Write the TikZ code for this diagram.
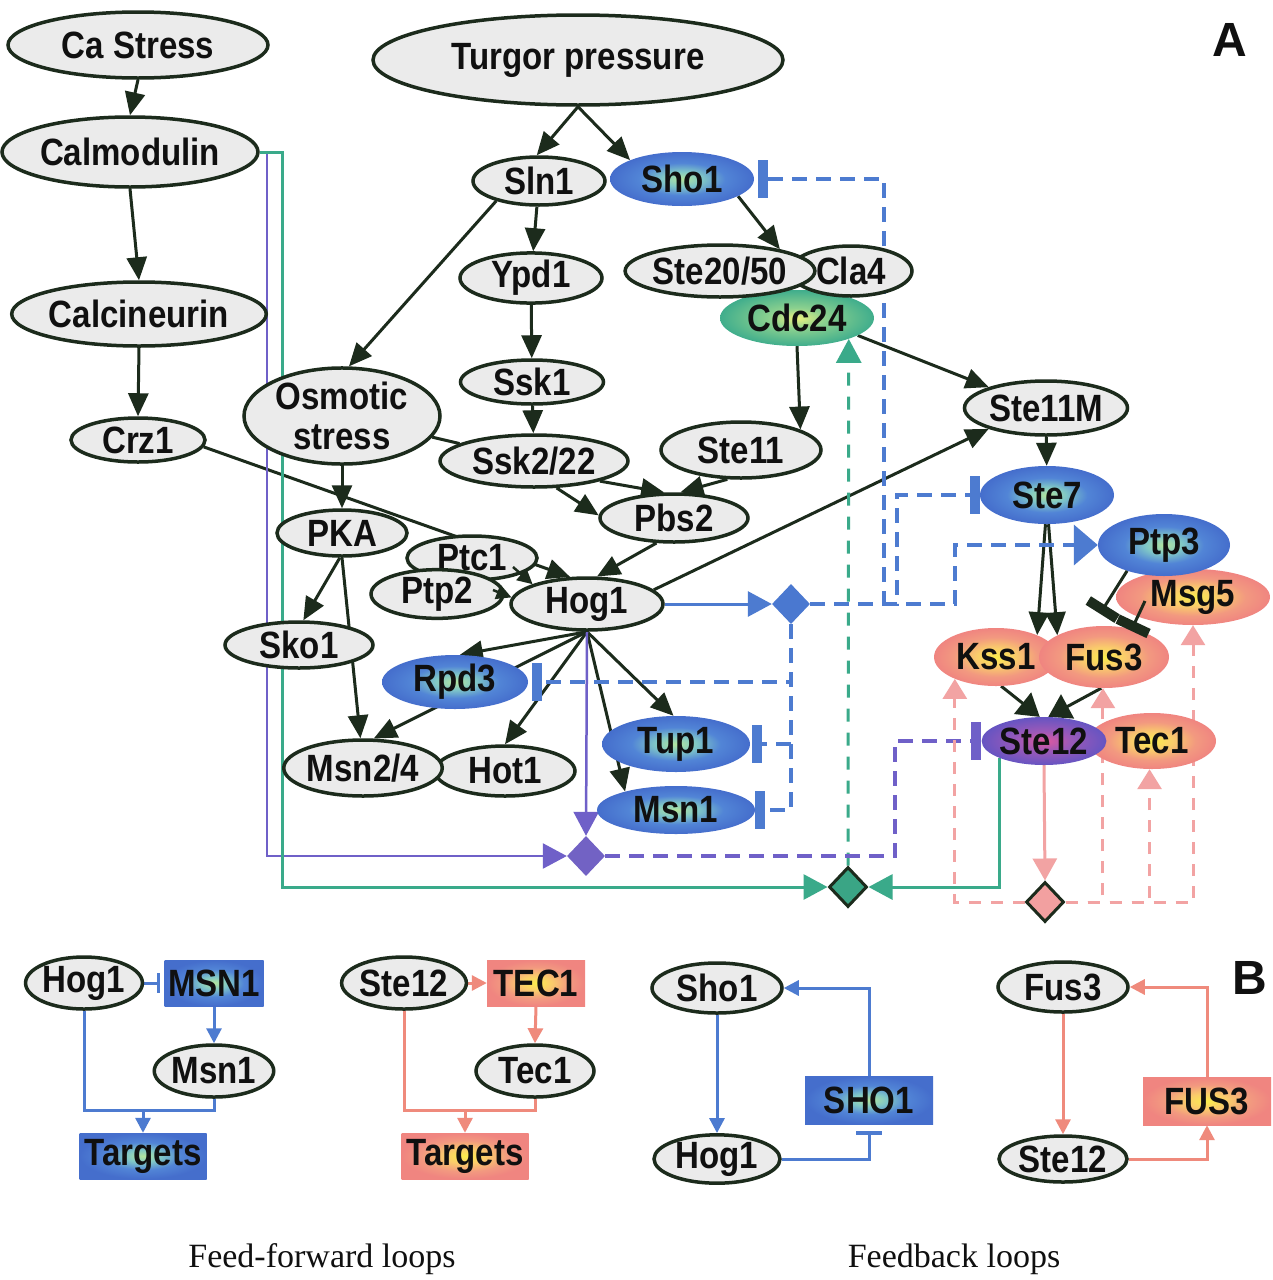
\documentclass[tikz,border=0pt]{standalone}
\usepackage{fontspec}
\setmainfont{Liberation Serif}
\newfontfamily\lbsans{Liberation Sans}[FakeStretch=0.87]
\newfontfamily\lbsansA{Liberation Sans}
\usetikzlibrary{shapes.geometric,arrows.meta,calc}
\definecolor{edgec}{HTML}{1C2B1C}
\definecolor{nodegray}{HTML}{EBEBEB}
\definecolor{txt}{HTML}{101010}
\definecolor{blueL}{HTML}{4D7BD0}
\definecolor{purpL}{HTML}{6F60C8}
\definecolor{tealL}{HTML}{3AAA8A}
\definecolor{pinkL}{HTML}{F2A3A3}
\definecolor{pinkB}{HTML}{EF8A7C}
\definecolor{bdiam}{HTML}{4A78D0}
\definecolor{pdiam}{HTML}{7262C4}
\definecolor{gdiam}{HTML}{3AA585}
\definecolor{pkdiam}{HTML}{F2A0A0}
\pgfdeclareradialshading{shblue}{\pgfpoint{0bp}{0bp}}{rgb(0bp)=(0.70,0.90,0.62); rgb(7bp)=(0.50,0.78,0.78); rgb(15bp)=(0.32,0.52,0.84); rgb(25bp)=(0.27,0.43,0.80); rgb(50bp)=(0.27,0.43,0.80)}
\pgfdeclareradialshading{shpink}{\pgfpoint{0bp}{0bp}}{rgb(0bp)=(0.98,0.93,0.30); rgb(8bp)=(0.98,0.80,0.42); rgb(17bp)=(0.95,0.60,0.50); rgb(25bp)=(0.94,0.52,0.50); rgb(50bp)=(0.94,0.52,0.50)}
\pgfdeclareradialshading{shpurp}{\pgfpoint{0bp}{0bp}}{rgb(0bp)=(0.88,0.35,0.62); rgb(10bp)=(0.62,0.35,0.72); rgb(25bp)=(0.40,0.33,0.76); rgb(50bp)=(0.40,0.33,0.76)}
\pgfdeclareradialshading{shteal}{\pgfpoint{0bp}{0bp}}{rgb(0bp)=(0.93,0.95,0.50); rgb(9bp)=(0.55,0.82,0.56); rgb(25bp)=(0.25,0.68,0.55); rgb(50bp)=(0.25,0.68,0.55)}
\pgfdeclarelayer{bottom}
\pgfdeclarelayer{back}
\pgfsetlayers{bottom,back,main}
\tikzset{
  base/.style={ellipse, inner sep=0pt, text=txt, font=\lbsans\bfseries\fontsize{38}{40}\selectfont, align=center},
  gn/.style={base, draw=edgec, line width=3.5pt, fill=nodegray},
  bn/.style={base, shade, shading=shblue},
  pn/.style={base, shade, shading=shpink},
  un/.style={base, shade, shading=shpurp},
  tn/.style={base, shade, shading=shteal},
  br/.style={rectangle, inner sep=0pt, text=txt, font=\lbsans\bfseries\fontsize{38}{40}\selectfont, shade, shading=shblue},
  pr/.style={rectangle, inner sep=0pt, text=txt, font=\lbsans\bfseries\fontsize{38}{40}\selectfont, shade, shading=shpink},
  sz/.style 2 args={minimum width=#1pt, minimum height=#2pt},
  dia/.style={diamond, inner sep=0pt, minimum width=38pt, minimum height=40pt},
  ar/.style={draw=edgec, line width=3pt, -{Triangle[length=23pt,width=20pt]}},
  arb/.style={draw=edgec, line width=3pt, -{Triangle[length=22pt,width=27pt]}},
  ars/.style={draw=edgec, line width=2.5pt, -{Triangle[length=15pt,width=15pt]}},
  ln/.style={draw=edgec, line width=3pt},
  inh/.style={draw=edgec, line width=3pt, -{Rectangle[length=10pt,width=34pt]}},
  ctip/.style={-{Triangle[length=24pt,width=25pt]}},
  cbar/.style={-{Rectangle[length=10pt,width=38pt]}},
  bsol/.style={draw=blueL, line width=3pt},
  bdash/.style={draw=blueL, line width=4pt, dash pattern=on 15pt off 9pt},
  psol/.style={draw=purpL, line width=2.5pt},
  pdash/.style={draw=purpL, line width=4pt, dash pattern=on 15pt off 9pt},
  tsol/.style={draw=tealL, line width=3pt},
  tdash/.style={draw=tealL, line width=3pt, dash pattern=on 13pt off 11pt},
  ksol/.style={draw=pinkL, line width=3pt},
  kdash/.style={draw=pinkL, line width=3pt, dash pattern=on 12pt off 10pt},
  bB/.style={draw=blueL, line width=3pt},
  pB/.style={draw=pinkB, line width=3pt},
  tipB/.style={-{Triangle[length=15pt,width=15pt]}},
  captext/.style={font=\fontsize{34}{36}\selectfont, text=txt}
}
\begin{document}
\begin{tikzpicture}[x=1pt,y=-1pt]
\useasboundingbox (0,0) rectangle (1272,1280);
\begin{pgfonlayer}{bottom}
\fill[white] (0,0) rectangle (1272,1280);
\end{pgfonlayer}

% ---------- Panel A nodes ----------
\node[gn,sz={260}{66}] (ca) at (138,45) {Ca Stress};
\node[gn,sz={410}{90}] (turgor) at (578,60) {Turgor pressure};
\node[gn,sz={256}{70}] (calm) at (130,152) {Calmodulin};
\node[gn,sz={228}{64}] (calcin) at (139,314) {Calcineurin};
\node[gn,sz={134}{44}] (crz1) at (138,440) {Crz1};
\node[gn,sz={132}{48}] (sln1) at (539,181) {Sln1};
\node[bn,sz={144}{54}] (sho1) at (682,179) {Sho1};
\node[gn,sz={142}{46}] (ypd1) at (531,278) {Ypd1};
\node[tn,sz={154}{56}] (cdc24) at (797,318) {Cdc24};
\node[gn,sz={122}{50}] (cla4) at (851,271) {Cla4};
\node[gn,sz={160}{52}] (ste20) at (720,271) {Ste20/50};
\node[gn,sz={143}{44}] (ssk1) at (532,382) {Ssk1};
\node[gn,sz={196}{88}] (osm) at (342,416) {Osmotic\\stress};
\node[gn,sz={188}{52}] (ssk2) at (534,461) {Ssk2/22};
\node[gn,sz={160}{56}] (ste11) at (741,450) {Ste11};
\node[gn,sz={163}{54}] (ste11m) at (1046,408) {Ste11M};
\node[gn,sz={130}{46}] (pka) at (342,533) {PKA};
\node[gn,sz={148}{48}] (pbs2) at (674,518) {Pbs2};
\node[bn,sz={134}{58}] (ste7) at (1047,495) {Ste7};
\node[pn,sz={154}{56}] (msg5) at (1193,597) {Msg5};
\node[bn,sz={132}{62}] (ptp3) at (1164,545) {Ptp3};
\node[gn,sz={130}{44}] (ptc1) at (472,558) {Ptc1};
\node[gn,sz={132}{46}] (ptp2) at (437,594) {Ptp2};
\node[gn,sz={152}{52}] (hog1) at (587,604) {Hog1};
\node[gn,sz={148}{46}] (sko1) at (299,645) {Sko1};
\node[pn,sz={124}{58}] (kss1) at (996,657) {Kss1};
\node[pn,sz={130}{62}] (fus3) at (1104,657) {Fus3};
\node[bn,sz={146}{54}] (rpd3) at (455,682) {Rpd3};
\node[bn,sz={148}{56}] (tup1) at (676,744) {Tup1};
\node[pn,sz={128}{56}] (tec1) at (1152,741) {Tec1};
\node[un,sz={124}{48}] (ste12) at (1044,741) {Ste12};
\node[gn,sz={140}{50}] (hot1) at (505,771) {Hot1};
\node[gn,sz={148}{56}] (msn24) at (363,768) {Msn2/4};
\node[bn,sz={158}{48}] (msn1) at (676,810) {Msn1};

\node[dia, fill=bdiam] (bd) at (791,604) {};
\node[dia, fill=pdiam] (pd) at (586,856) {};
\node[dia, fill=gdiam, draw=edgec, line width=3pt] (gd) at (848,887) {};
\node[dia, fill=pkdiam, draw=edgec, line width=3pt] (pkd) at (1045,902) {};

\node[font=\lbsansA\bfseries\fontsize{48}{48}\selectfont, text=txt] (labA) at (1230,40) {A};

% ---------- Panel B nodes ----------
\node[gn,sz={108}{52}] (hogB) at (84,983) {Hog1};
\node[br,sz={99}{46}] (msnR) at (214,983) {MSN1};
\node[gn,sz={116}{52}] (msn1B) at (214,1071) {Msn1};
\node[br,sz={127}{46}] (tgB) at (143,1156) {Targets};
\node[gn,sz={108}{52}] (ste12B) at (404,983) {Ste12};
\node[pr,sz={98}{46}] (tecR) at (536,983) {TEC1};
\node[gn,sz={118}{52}] (tec1B) at (535,1071) {Tec1};
\node[pr,sz={127}{46}] (tgP) at (465,1156) {Targets};
\node[gn,sz={130}{50}] (sho1B) at (717,988) {Sho1};
\node[gn,sz={126}{48}] (hog1C) at (717,1159) {Hog1};
\node[br,sz={128}{48}] (shoR) at (869,1100) {SHO1};
\node[gn,sz={130}{50}] (fus3B) at (1063,987) {Fus3};
\node[gn,sz={128}{46}] (ste12C) at (1063,1159) {Ste12};
\node[pr,sz={128}{48}] (fusR) at (1207,1101) {FUS3};
\node[font=\lbsansA\bfseries\fontsize{48}{48}\selectfont, text=txt] (labB) at (1250,978) {B};

\node[captext] (capff) at (322,1259) {Feed-forward loops};
\node[captext] (capfb) at (954,1259) {Feedback loops};

\coordinate (ffj1) at (143,1110);
\coordinate (ffj2) at (465,1110);

% ---------- connectors behind nodes ----------
\begin{pgfonlayer}{back}
\draw[ar] (ca.south) -- (calm.north);
\draw[ar] (calm.south) -- (calcin.north);
\draw[ar] (calcin.south) -- (crz1.north);
\draw[ar] (crz1.-6) -- (hog1.122);
\draw[ar] (turgor.south) -- (sln1.95);
\draw[ar] (turgor.south) -- (sho1.160);
\draw[ar] (sln1) -- (ypd1);
\draw[ar] (sln1.205) -- (osm.82);
\draw[ar] (ypd1) -- (ssk1);
\draw[ar] (ssk1) -- (ssk2);
\draw[ln] (osm) -- (ssk2);
\draw[ar] (osm) -- (pka);
\draw[ar] (ssk2.-50) -- (pbs2.178);
\draw[ar] (ssk2.-17) -- (pbs2.111);
\draw[ar] (ste11.-115) -- (pbs2.76);
\draw[ar] (sho1.-17) -- (ste20.20);
\draw[ar] (cdc24.south) -- (ste11.19);
\draw[ar] (cdc24.-16) -- (ste11m.160);
\draw[ar] (hog1.12) -- (ste11m.200);
\draw[ar] (pbs2.-125) -- (hog1.70);
\draw[ar] (ste11m) -- (ste7);
\draw[ar] (ste7.-93) -- (kss1.28);
\draw[ar] (ste7.-87) -- (fus3.155);
\draw[arb] (kss1.-80) -- (ste12.100);
\draw[arb] (fus3.-95) -- (ste12.80);
\draw[ar] (pka.-95) -- (sko1.80);
\draw[ar] (pka.south) -- (msn24.95);
\draw[ar] (hog1.south) -- (msn24.70);
\draw[ar] (hog1.south) -- (rpd3.80);
\draw[ar] (hog1.south) -- (hot1.north);
\draw[ar] (hog1.south) -- (tup1.95);
\draw[ar] (hog1.south) -- (msn1.160);

% coloured solid lines
\draw[psol, ctip] (hog1.south) -- (pd.north);
\draw[bsol, ctip] (hog1.east) -- (bd.west);
\draw[psol, ctip] (calm.east) -- (267,152) -- (267,856) -- (pd.west);
\draw[tsol, ctip] (calm.east) -- (282,152) -- (282,887) -- (gd.west);
\draw[tsol, ctip] (ste12.201) |- (gd.east);
\draw[tdash, ctip] (gd.north) -- (cdc24.-22);

% blue dashed feedback
\draw[bdash, cbar] (bd.east) -- (884,604) -- (884,179) -- ($(sho1.east)+(4,0)$);
\draw[bdash, cbar] (bd.east) -- (897,604) -- (897,495) -- (ste7.west);
\draw[bdash, -{Triangle[length=24pt,width=40pt]}] (bd.east) -- (955,604) -- (955,545) -- (ptp3.west);
\draw[bdash, cbar] (bd.south) -- (791,682) -- ($(rpd3.east)+(4,0)$);
\draw[bdash, cbar] (bd.south) -- (791,744) -- ($(tup1.east)+(2,0)$);
\draw[bdash, cbar] (bd.south) -- (791,810) -- (msn1.east);

% purple dashed
\draw[pdash, cbar] (pd.east) -- (895,856) -- (895,741) -- (ste12.west);

% pink
\draw[ksol, -{Triangle[length=22pt,width=24pt]}] (ste12.south) -- (pkd.north);
\draw[kdash, -{Triangle[length=20pt,width=24pt]}] (pkd.west) -| (kss1.-152);
\draw[kdash, -{Triangle[length=20pt,width=24pt]}] (pkd.east) -| (fus3.-92);
\draw[kdash, -{Triangle[length=20pt,width=24pt]}] (pkd.east) -| (tec1.-95);
\draw[kdash, -{Triangle[length=20pt,width=24pt]}] (pkd.east) -| (msg5.south);

% panel B
\draw[bB, -{Rectangle[length=3pt,width=20pt]}] (hogB.east) -- ($(msnR.west)+(-4,0)$);
\draw[bB, tipB] (msnR.south) -- (msn1B.north);
\draw[bB] (hogB.south) |- (ffj1);
\draw[bB] (msn1B.south) |- (ffj1);
\draw[bB, tipB] (ffj1) -- (tgB.north);
\draw[pB, tipB] (ste12B.east) -- (tecR.west);
\draw[pB, tipB] (tecR.south) -- (tec1B.north);
\draw[pB] (ste12B.south) |- (ffj2);
\draw[pB] (tec1B.south) |- (ffj2);
\draw[pB, tipB] (ffj2) -- (tgP.north);
\draw[bB, tipB] (sho1B.south) -- (hog1C.north);
\draw[bB, tipB] (shoR.north) |- (sho1B.east);
\draw[bB, -{Rectangle[length=4pt,width=26pt]}] (hog1C.east) -| ($(shoR.south)+(0,7)$);
\draw[pB, tipB] (fus3B.south) -- (ste12C.north);
\draw[pB, tipB] (fusR.north) |- (fus3B.east);
\draw[pB, tipB] (ste12C.east) -| (fusR.south);
\end{pgfonlayer}

% ---------- connectors drawn over nodes ----------
\draw[ars] ($(ptc1)+(41,9)$) -- (hog1.160);
\draw[ars] ($(ptp2)+(56,-4)$) -- (hog1.175);
\draw[inh] (ptp3.-145) -- ($(fus3.north)+(-4,-12)$);
\draw[inh] ($(msg5)+(-48,4)$) -- ($(fus3.north)+(27,5)$);
\end{tikzpicture}
\end{document}
